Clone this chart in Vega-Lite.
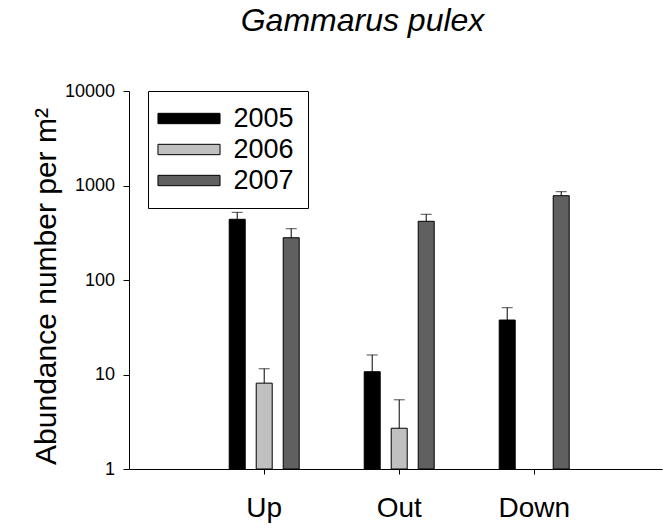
{
  "$schema": "https://vega.github.io/schema/vega-lite/v6.json",
  "width": 533,
  "height": 378,
  "autosize": {"type": "none"},
  "padding": {"left": 129, "top": 91, "right": 1, "bottom": 60},
  "background": "white",
  "title": {
    "text": "Gammarus pulex",
    "font": "Liberation Sans",
    "fontSize": 32,
    "fontStyle": "italic",
    "fontWeight": "normal",
    "color": "black",
    "anchor": "middle",
    "frame": "group",
    "dx": -33,
    "baseline": "alphabetic",
    "offset": 19
  },
  "data": {
    "values": [
      {"site": "Up", "year": "2005", "value": 439, "upper": 520},
      {"site": "Up", "year": "2006", "value": 8.1, "upper": 11.5},
      {"site": "Up", "year": "2007", "value": 280, "upper": 349},
      {"site": "Out", "year": "2005", "value": 10.7, "upper": 16.1},
      {"site": "Out", "year": "2006", "value": 2.7, "upper": 5.4},
      {"site": "Out", "year": "2007", "value": 418, "upper": 496},
      {"site": "Down", "year": "2005", "value": 37.7, "upper": 50.9},
      {"site": "Down", "year": "2007", "value": 780, "upper": 860}
    ]
  },
  "encoding": {
    "x": {
      "field": "site",
      "type": "nominal",
      "sort": ["Up", "Out", "Down"],
      "scale": {"paddingInner": 0, "paddingOuter": 0.474, "align": 0.529},
      "axis": {
        "title": null,
        "labelAngle": 0,
        "tickSize": 5,
        "tickColor": "black",
        "domainColor": "black",
        "labelFont": "Liberation Sans",
        "labelFontSize": 28,
        "labelColor": "black",
        "labelBaseline": "alphabetic",
        "labelPadding": 42.7,
        "grid": false
      }
    },
    "xOffset": {
      "field": "year",
      "type": "nominal",
      "scale": {"domain": ["2005", "2006", "2007"], "paddingInner": 0, "paddingOuter": 1}
    }
  },
  "layer": [
    {
      "mark": {"type": "bar", "stroke": "black", "strokeWidth": 1, "width": 16},
      "encoding": {
        "y": {
          "field": "value",
          "type": "quantitative",
          "scale": {"type": "log", "domain": [1, 10000]},
          "axis": {
            "title": "Abundance number per m²",
            "titleFont": "Liberation Sans",
            "titleFontSize": 30,
            "titleFontWeight": "normal",
            "titleColor": "black",
            "titleBaseline": "alphabetic",
            "titleAngle": 270,
            "titleAlign": "center",
            "titleX": -73.5,
            "titleY": 195,
            "values": [1, 10, 100, 1000, 10000],
            "format": "d",
            "grid": false,
            "tickSize": 6,
            "tickColor": "black",
            "domainColor": "black",
            "labelFont": "Liberation Sans",
            "labelFontSize": 18,
            "labelColor": "black",
            "labelPadding": 8.5
          }
        },
        "y2": {"datum": 1},
        "color": {
          "field": "year",
          "type": "nominal",
          "scale": {"domain": ["2005", "2006", "2007"], "range": ["#000000", "#c0c0c0", "#606060"]},
          "legend": {
            "title": null,
            "orient": "none",
            "legendX": 19,
            "legendY": 0,
            "direction": "vertical",
            "fillColor": "white",
            "strokeColor": "black",
            "padding": 14,
            "rowPadding": 3,
            "symbolType": "M-3,-0.5L3,-0.5L3,0.5L-3,0.5Z",
            "symbolSize": 428,
            "symbolOffset": 13.5,
            "symbolStrokeColor": "black",
            "symbolStrokeWidth": 1,
            "symbolOpacity": 1,
            "labelFont": "Liberation Sans",
            "labelFontSize": 27,
            "labelColor": "black",
            "labelOffset": 31
          }
        }
      }
    },
    {
      "mark": {"type": "rule", "color": "black", "strokeWidth": 1},
      "encoding": {
        "y": {"field": "value", "type": "quantitative"},
        "y2": {"field": "upper"}
      }
    },
    {
      "mark": {"type": "tick", "color": "black", "size": 11, "thickness": 1},
      "encoding": {
        "y": {"field": "upper", "type": "quantitative"}
      }
    }
  ],
  "config": {
    "view": {"stroke": null},
    "axis": {"domainWidth": 1, "tickWidth": 1}
  }
}
